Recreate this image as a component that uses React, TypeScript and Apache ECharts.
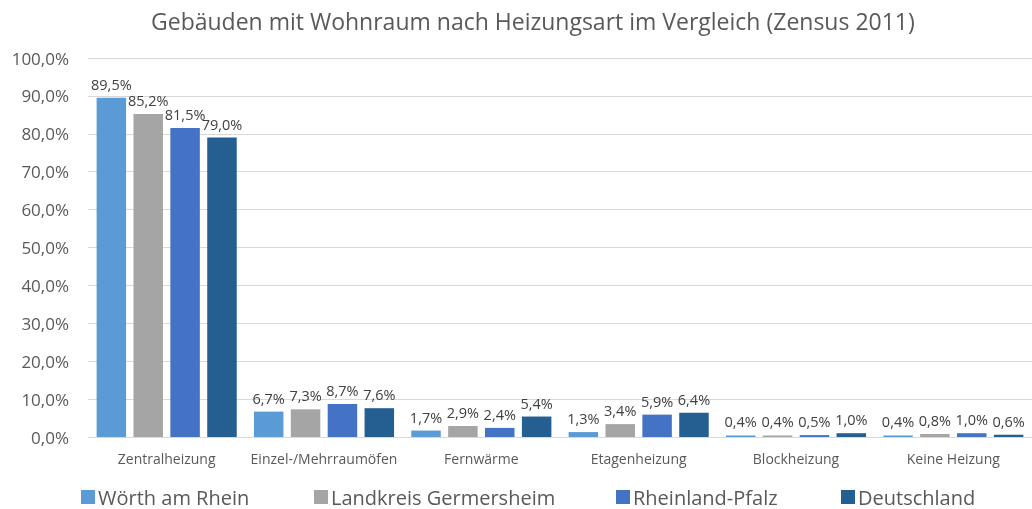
import React, { useEffect, useRef } from "react";
import * as echarts from "echarts";

const categories = [
  "Zentralheizung",
  "Einzel-/Mehrraumöfen",
  "Fernwärme",
  "Etagenheizung",
  "Blockheizung",
  "Keine Heizung",
];
const seriesNames = ["Wörth am Rhein", "Landkreis Germersheim", "Rheinland-Pfalz", "Deutschland"];
const woerth = [89.5, 6.7, 1.7, 1.3, 0.4, 0.4];
const germersheim = [85.2, 7.3, 2.9, 3.4, 0.4, 0.8];
const rlp = [81.5, 8.7, 2.4, 5.9, 0.5, 1.0];
const deutschland = [79.0, 7.6, 5.4, 6.4, 1.0, 0.6];
const seriesValues = [woerth, germersheim, rlp, deutschland];
const colors = ["#5B9BD5", "#A5A5A5", "#4472C4", "#255E91"];
const legendLeft = [76, 309, 611, 836];

const fmt = (v: number) => v.toFixed(1).replace(".", ",") + "%";

export default function App() {
  const ref = useRef<HTMLDivElement>(null);
  useEffect(() => {
    if (!ref.current) return;
    const chart = echarts.init(ref.current, undefined, { renderer: "svg" });
    const font = "'Open Sans', 'Noto Sans', sans-serif";
    chart.setOption({
      animation: false,
      textStyle: { fontFamily: font },
      title: {
        text: "Gebäuden mit Wohnraum nach Heizungsart im Vergleich (Zensus 2011)",
        left: 146,
        top: 4,
        textStyle: { fontFamily: font, fontSize: 23, fontWeight: "normal", color: "#595959" },
      },
      legend: seriesNames.map((n, i) => ({
        data: [n],
        left: legendLeft[i],
        top: 482,
        itemWidth: 14,
        itemHeight: 14,
        icon: "rect",
        itemGap: 0,
        textStyle: { fontFamily: font, fontSize: 20, color: "#595959", padding: [0, 0, 0, -2] },
      })),
      grid: { left: 88, right: -4, top: 58, bottom: 72, containLabel: false },
      xAxis: {
        type: "category",
        data: categories,
        axisLine: { lineStyle: { color: "#D9D9D9" } },
        axisTick: { show: false },
        axisLabel: { color: "#595959", fontSize: 14, margin: 14, interval: 0, fontFamily: font },
      },
      yAxis: {
        type: "value",
        min: 0,
        max: 100,
        interval: 10,
        axisLine: { show: false },
        axisTick: { show: false },
        splitLine: { lineStyle: { color: "#D9D9D9" } },
        axisLabel: { color: "#595959", fontSize: 17, margin: 19, formatter: (v: number) => fmt(v), fontFamily: font },
      },
      series: seriesNames.map((n, i) => ({
        name: n,
        type: "bar",
        data: seriesValues[i],
        barWidth: 29.5,
        barGap: "25%",
        itemStyle: { color: colors[i] },
        label: {
          show: true,
          position: "top",
          distance: 6,
          color: "#404040",
          fontSize: 14.5,
          fontFamily: font,
          formatter: (p: any) => fmt(p.value),
        },
      })),
    });
    return () => chart.dispose();
  }, []);
  return <div ref={ref} style={{ position: "fixed", left: 0, top: 0, width: 1032, height: 509 }} />;
}
